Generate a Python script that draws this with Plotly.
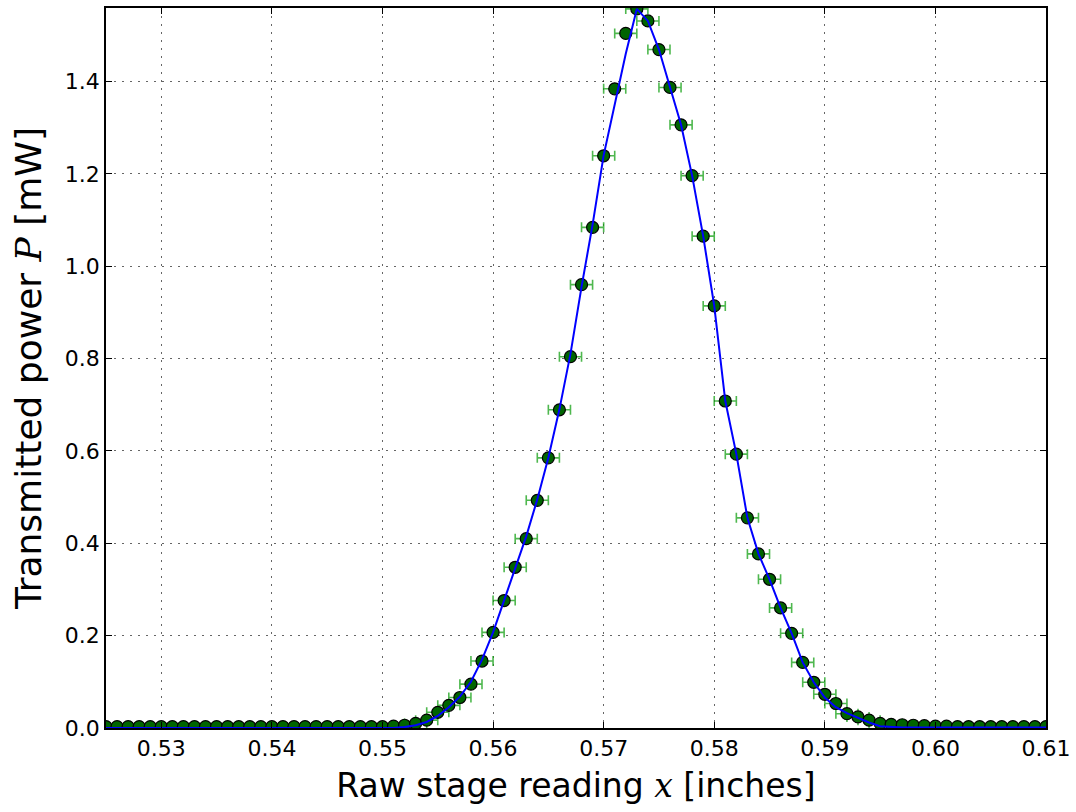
import plotly.graph_objects as go

# Stage positions (inches)
x_pos = [0.525, 0.526, 0.527, 0.528, 0.529, 0.530, 0.531, 0.532, 0.533, 0.534,
         0.535, 0.536, 0.537, 0.538, 0.539, 0.540, 0.541, 0.542, 0.543, 0.544,
         0.545, 0.546, 0.547, 0.548, 0.549, 0.550, 0.551, 0.552, 0.553, 0.554,
         0.555, 0.556, 0.557, 0.558, 0.559, 0.560, 0.561, 0.562, 0.563, 0.564,
         0.565, 0.566, 0.567, 0.568, 0.569, 0.570, 0.571, 0.572, 0.573, 0.574,
         0.575, 0.576, 0.577, 0.578, 0.579, 0.580, 0.581, 0.582, 0.583, 0.584,
         0.585, 0.586, 0.587, 0.588, 0.589, 0.590, 0.591, 0.592, 0.593, 0.594,
         0.595, 0.596, 0.597, 0.598, 0.599, 0.600, 0.601, 0.602, 0.603, 0.604,
         0.605, 0.606, 0.607, 0.608, 0.609, 0.610]

# Measured transmitted power (mW)
power = [0.003, 0.003, 0.003, 0.003, 0.003, 0.003, 0.003, 0.003, 0.003, 0.003,
         0.003, 0.003, 0.003, 0.003, 0.003, 0.003, 0.003, 0.003, 0.003, 0.003,
         0.003, 0.003, 0.003, 0.003, 0.003, 0.003, 0.004, 0.006, 0.010, 0.017,
         0.034, 0.049, 0.066, 0.095, 0.145, 0.207, 0.276, 0.348, 0.410, 0.493,
         0.585, 0.689, 0.804, 0.960, 1.084, 1.239, 1.384, 1.504, 1.557, 1.531,
         1.469, 1.387, 1.306, 1.196, 1.065, 0.914, 0.708, 0.593, 0.455, 0.377,
         0.322, 0.260, 0.205, 0.142, 0.099, 0.073, 0.053, 0.031, 0.024, 0.017,
         0.010, 0.008, 0.007, 0.006, 0.005, 0.004, 0.004, 0.003, 0.003, 0.003,
         0.003, 0.003, 0.003, 0.003, 0.003, 0.003]

# Horizontal uncertainty of each stage reading (inches)
x_err = [0.001] * len(x_pos)

# Model curve (mW) drawn through the same stage positions
model = [0.0, 0.0, 0.0, 0.0, 0.0, 0.0, 0.0, 0.0, 0.0, 0.0,
         0.0, 0.0, 0.0, 0.0, 0.0, 0.0, 0.0, 0.0, 0.0, 0.0,
         0.0, 0.0, 0.0, 0.0, 0.0, 0.0, 0.0, 0.002, 0.006, 0.013,
         0.026, 0.045, 0.068, 0.100, 0.148, 0.207, 0.275, 0.345, 0.415, 0.495,
         0.585, 0.690, 0.810, 0.955, 1.090, 1.240, 1.350, 1.460, 1.557, 1.531,
         1.469, 1.387, 1.306, 1.196, 1.065, 0.914, 0.708, 0.593, 0.455, 0.377,
         0.322, 0.260, 0.205, 0.142, 0.099, 0.066, 0.045, 0.032, 0.022, 0.012,
         0.004, 0.002, 0.001, 0.001, 0.001, 0.001, 0.001, 0.001, 0.001, 0.001,
         0.001, 0.001, 0.001, 0.001, 0.001, 0.001]

x_ticks = [0.53, 0.54, 0.55, 0.56, 0.57, 0.58, 0.59, 0.60, 0.61]
x_tick_labels = ["0.53", "0.54", "0.55", "0.56", "0.57", "0.58", "0.59", "0.60", "0.61"]
y_ticks = [0.0, 0.2, 0.4, 0.6, 0.8, 1.0, 1.2, 1.4]
y_tick_labels = ["0.0", "0.2", "0.4", "0.6", "0.8", "1.0", "1.2", "1.4"]

fig = go.Figure()

fig.add_trace(go.Scatter(
    x=x_pos, y=power, mode="markers",
    marker=dict(color="#006400", size=12, line=dict(color="black", width=1.2)),
    error_x=dict(type="data", array=x_err, visible=True,
                 color="rgba(20,160,20,0.75)", thickness=1.6, width=5),
    showlegend=False, cliponaxis=True,
))

fig.add_trace(go.Scatter(
    x=x_pos, y=model, mode="lines",
    line=dict(color="#0000ff", width=2),
    showlegend=False,
))

axis_common = dict(
    showline=True, linecolor="black", linewidth=1.5, mirror="ticks",
    ticks="inside", ticklen=6, tickwidth=1.2, tickcolor="black",
    showgrid=True, gridcolor="rgba(0,0,0,0.6)", gridwidth=1.2, griddash="2px,6px",
    zeroline=False,
    tickfont=dict(family="DejaVu Sans", size=22, color="black"),
)

fig.update_xaxes(
    range=[0.525, 0.61], tickvals=x_ticks, ticktext=x_tick_labels,
    title=dict(text="Raw stage reading <span style=\"font-family:'DejaVu Serif'\"><i>x</i></span> [inches]",
               font=dict(family="DejaVu Sans", size=33, color="black"), standoff=14),
    **axis_common,
)
fig.update_yaxes(
    range=[0, 1.559], tickvals=y_ticks, ticktext=y_tick_labels,
    title=dict(text="Transmitted power <span style=\"font-family:'DejaVu Serif'\"><i>P</i></span> [mW]",
               font=dict(family="DejaVu Sans", size=36, color="black"), standoff=12),
    **axis_common,
)

fig.update_layout(
    width=1076, height=812,
    margin=dict(l=106, r=30, t=6, b=84),
    plot_bgcolor="white", paper_bgcolor="white",
)

fig.write_html("out.html")
